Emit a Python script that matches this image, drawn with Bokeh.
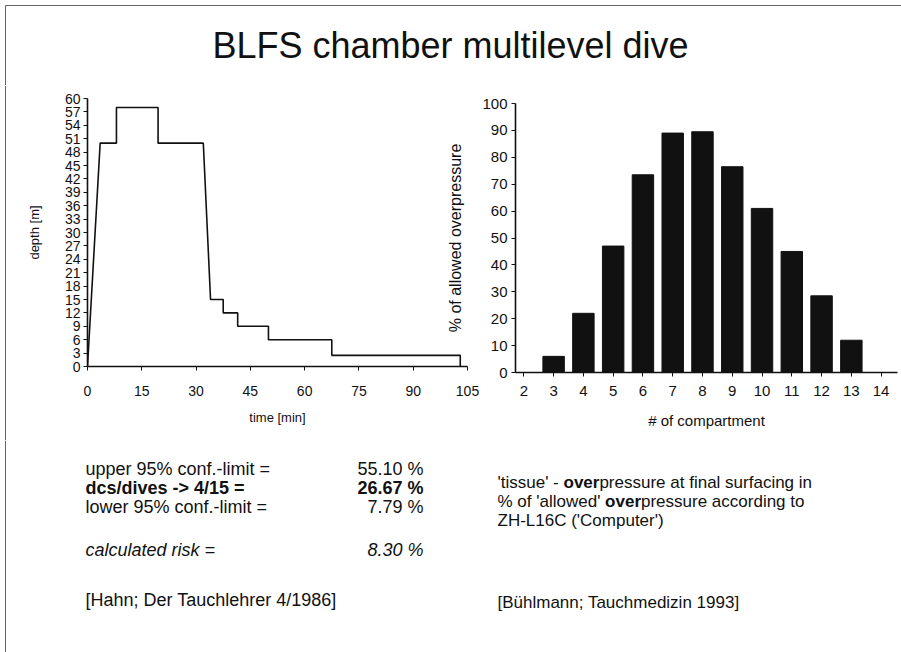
from bokeh.plotting import figure
from bokeh.layouts import column, row
from bokeh.models import Range1d, FixedTicker
from bokeh.core.properties import value
from bokeh.embed import file_html
from bokeh.resources import INLINE

# ---------------- data ----------------
title_text = "BLFS chamber multilevel dive"

dive_time = [0, 3.5, 8, 8, 19.5, 19.5, 32, 34, 37.5, 37.5, 41.5, 41.5, 50, 50, 67.5, 67.5, 103, 103]
dive_depth = [0, 50, 50, 58, 58, 50, 50, 15, 15, 12, 12, 9, 9, 6, 6, 2.5, 2.5, 0]
time_ticks = [0, 15, 30, 45, 60, 75, 90, 105]
depth_ticks = list(range(0, 61, 3))

compartments = [2, 3, 4, 5, 6, 7, 8, 9, 10, 11, 12, 13, 14]
overpressure = [0, 6, 22, 47, 73.5, 89, 89.5, 76.5, 61, 45, 28.5, 12, 0]
pct_ticks = list(range(0, 101, 10))

stats_labels = ["upper 95% conf.-limit =", "dcs/dives -> 4/15 =", "lower 95% conf.-limit ="]
stats_values = ["55.10 %", "26.67 %", "7.79 %"]
risk_label = "calculated risk ="
risk_value = "8.30 %"
ref_left = "[Hahn; Der Tauchlehrer 4/1986]"
ref_right = "[Bühlmann; Tauchmedizin 1993]"
note_line1 = ["'tissue' - ", "over", "pressure at final surfacing in"]
note_line2 = ["% of 'allowed' ", "over", "pressure according to"]
note_line3 = "ZH-L16C ('Computer')"

FONT = value("Liberation Sans")
INK = "#111111"
BORDER = "#666666"

# Arial / Liberation Sans advance widths (1/1000 em) used to place mixed-weight runs
W_REG = {" ": 278, "'": 191, "%": 889, "-": 333, "a": 556, "d": 556, "e": 556, "f": 278,
         "i": 222, "l": 222, "o": 556, "s": 500, "t": 278, "u": 556, "w": 722}
W_BOLD = {"o": 611, "v": 556, "e": 556, "r": 389}


def text_w(s, table, size):
    return sum(table[c] for c in s) * size / 1000.0


def blank(width, height, x0, x1, y0, y1):
    p = figure(width=width, height=height, x_range=Range1d(x0, x1), y_range=Range1d(y1, y0),
               min_border=0, toolbar_location=None, output_backend="svg",
               x_axis_type=None, y_axis_type=None)
    p.outline_line_color = None
    p.background_fill_color = None
    p.border_fill_color = None
    return p


def style_axes(p, tick_fs, label_fs):
    for ax in (p.xaxis, p.yaxis):
        ax.axis_line_color = INK
        ax.axis_line_width = 1.6
        ax.major_tick_line_color = INK
        ax.major_tick_out = 4
        ax.major_tick_in = 0
        ax.minor_tick_line_color = None
        ax.major_label_text_font = "Liberation Sans"
        ax.major_label_text_font_size = tick_fs
        ax.major_label_text_color = INK
        ax.axis_label_text_font = "Liberation Sans"
        ax.axis_label_text_font_size = label_fs
        ax.axis_label_text_font_style = "normal"
        ax.axis_label_text_color = INK


# ---------------- header ----------------
header = blank(901, 85, 0, 901, 0, 85)
header.text(x=[450], y=[45], text=[title_text], text_align="center", text_baseline="middle",
            text_font=FONT, text_font_size="36px", text_color=INK)
header.segment(x0=[5, 5], y0=[5, 5], x1=[901, 5], y1=[5, 85], line_color=BORDER, line_width=1)

# ---------------- left strip (page border) ----------------
strip = blank(8, 355, 0, 8, 85, 440)
strip.segment(x0=[5], y0=[85], x1=[5], y1=[440], line_color=BORDER, line_width=1)

# ---------------- dive profile ----------------
pl = figure(width=472, height=355, x_range=Range1d(0, 105), y_range=Range1d(0, 60),
            min_border_left=79, min_border_right=13, min_border_top=13, min_border_bottom=74,
            toolbar_location=None, output_backend="svg")
pl.line(dive_time, dive_depth, line_color=INK, line_width=1.6)
pl.outline_line_color = None
pl.xgrid.visible = False
pl.ygrid.visible = False
pl.background_fill_color = None
pl.border_fill_color = None
pl.xaxis.ticker = FixedTicker(ticks=time_ticks)
pl.yaxis.ticker = FixedTicker(ticks=depth_ticks)
pl.xaxis.axis_label = "time [min]"
pl.yaxis.axis_label = "depth [m]"
style_axes(pl, "14px", "13px")
pl.xaxis.major_label_standoff = 15
pl.xaxis.axis_label_standoff = 11
pl.yaxis.major_label_standoff = 3
pl.yaxis.axis_label_standoff = 20

# ---------------- compartment bars ----------------
pr = figure(width=466, height=355, x_range=Range1d(1.72, 14.55), y_range=Range1d(0, 100),
            min_border_left=80, min_border_right=4, min_border_top=18, min_border_bottom=68,
            toolbar_location=None, output_backend="svg")
pr.vbar(x=compartments, top=overpressure, width=0.72, fill_color=INK, line_color=INK)
pr.outline_line_color = None
pr.xgrid.visible = False
pr.ygrid.visible = False
pr.background_fill_color = None
pr.border_fill_color = None
pr.xaxis.ticker = FixedTicker(ticks=compartments)
pr.yaxis.ticker = FixedTicker(ticks=pct_ticks)
pr.xaxis.axis_label = "# of compartment"
pr.yaxis.axis_label = "% of allowed overpressure"
style_axes(pr, "15px", "15px")
pr.yaxis.axis_label_text_font_size = "16px"
pr.xaxis.major_label_standoff = 9
pr.xaxis.axis_label_standoff = 13
pr.yaxis.major_label_standoff = 4
pr.yaxis.axis_label_standoff = 15

# ---------------- bottom text ----------------
bottom = blank(901, 212, 0, 901, 440, 652)
bottom.segment(x0=[5], y0=[440], x1=[5], y1=[652], line_color=BORDER, line_width=1)
FL = 18
fl = f"{FL}px"
rows_y = [468, 487, 506]
styles = ["normal", "bold", "normal"]
for lab, val, yy, st in zip(stats_labels, stats_values, rows_y, styles):
    bottom.text(x=[85], y=[yy], text=[lab], text_align="left", text_baseline="middle",
                text_font=FONT, text_font_size=fl, text_font_style=st, text_color=INK)
    bottom.text(x=[423], y=[yy], text=[val], text_align="right", text_baseline="middle",
                text_font=FONT, text_font_size=fl, text_font_style=st, text_color=INK)
bottom.text(x=[85], y=[549], text=[risk_label], text_align="left", text_baseline="middle",
            text_font=FONT, text_font_size=fl, text_font_style="italic", text_color=INK)
bottom.text(x=[423], y=[549], text=[risk_value], text_align="right", text_baseline="middle",
            text_font=FONT, text_font_size=fl, text_font_style="italic", text_color=INK)
bottom.text(x=[85], y=[599], text=[ref_left], text_align="left", text_baseline="middle",
            text_font=FONT, text_font_size=fl, text_color=INK)

FR = 17
fr = f"{FR}px"
NX = 497
for parts, yy in ((note_line1, 482), (note_line2, 501)):
    x = NX
    for i, seg in enumerate(parts):
        bold = (i == 1)
        bottom.text(x=[x], y=[yy], text=[seg], text_align="left", text_baseline="middle",
                    text_font=FONT, text_font_size=fr,
                    text_font_style="bold" if bold else "normal", text_color=INK)
        if i < 2:
            x += text_w(seg, W_BOLD if bold else W_REG, FR)
bottom.text(x=[NX], y=[520], text=[note_line3], text_align="left", text_baseline="middle",
            text_font=FONT, text_font_size=fr, text_color=INK)
bottom.text(x=[NX], y=[602], text=[ref_right], text_align="left", text_baseline="middle",
            text_font=FONT, text_font_size=fr, text_color=INK)

right_box = column(pr, margin=(0, 0, 0, -45))
layout = column(header, row(column(strip), column(pl), right_box), bottom)

with open("out.html", "w") as f:
    f.write(file_html(layout, INLINE))
